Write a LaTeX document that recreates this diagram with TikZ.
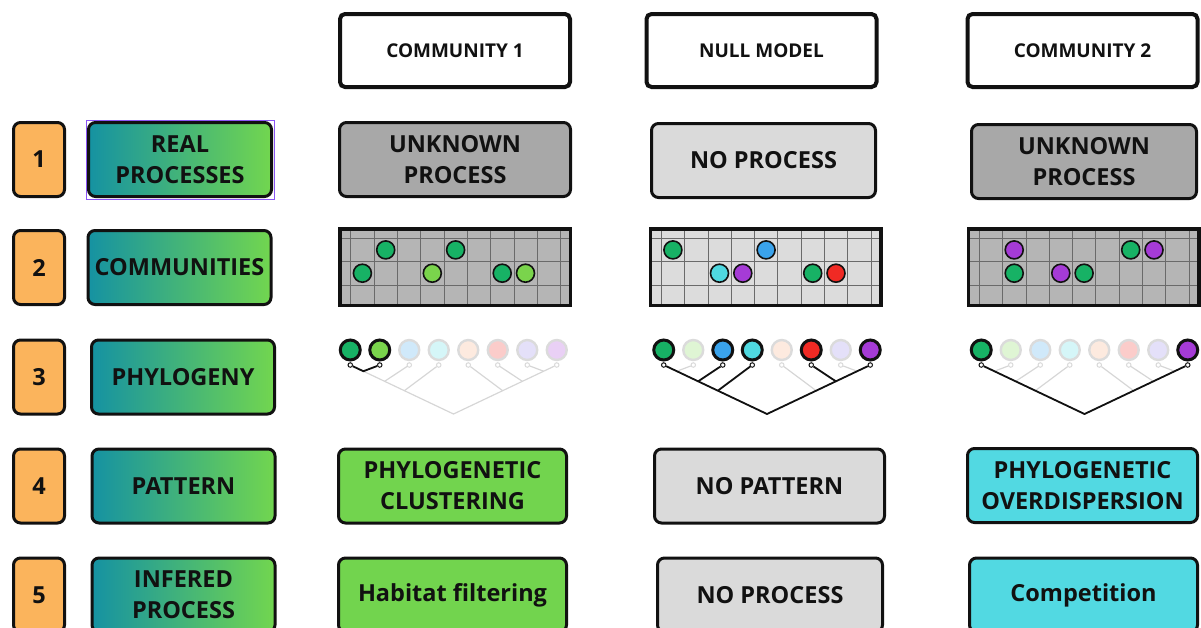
\documentclass[tikz,border=0pt]{standalone}
\usepackage{fontspec}
\setmainfont{Open Sans}
\usetikzlibrary{calc}

\definecolor{numorange}{HTML}{FBB45C}
\definecolor{labteal}{HTML}{1592A2}
\definecolor{labgreen}{HTML}{72D64F}
\definecolor{procgrey}{HTML}{A8A8A8}
\definecolor{nullgrey}{HTML}{DADADA}
\definecolor{clustgreen}{HTML}{72D44E}
\definecolor{overcyan}{HTML}{52D9E2}
\definecolor{gridgrey}{HTML}{B5B5B5}
\definecolor{gridlight}{HTML}{DCDCDC}
\definecolor{gridrule}{HTML}{6A6A6A}
\definecolor{spA}{HTML}{17B265}
\definecolor{spB}{HTML}{7AD44C}
\definecolor{spC}{HTML}{3AA3EC}
\definecolor{spD}{HTML}{4FD8E0}
\definecolor{spE}{HTML}{F6A878}
\definecolor{spF}{HTML}{F02A24}
\definecolor{spG}{HTML}{8F7CE8}
\definecolor{spH}{HTML}{A53BD6}
\definecolor{selpurple}{HTML}{8B55F5}
\definecolor{ink}{HTML}{111111}

% tips and stubs of a phylogeny: #1 prefix, #2 centre x, #3 list index/colour/state
\newcommand\phylotips[3]{%
  \foreach \i/\c/\s in {#3} {
    \node[tip\s=\c] (#1t\i) at ({#2+(\i-4.5)*29.5},350) {};
    \node[stub\s] (#1s\i) at ({#2+(\i-4.5)*29.5},365) {};
  }
  \coordinate (#1r) at (#2,414);
  \coordinate (#1j1) at ($(#1s1)!0.127!(#1r)$);
  \coordinate (#1j2) at ($(#1s1)!0.333!(#1r)$);
  \coordinate (#1j3) at ($(#1s1)!0.524!(#1r)$);
  \coordinate (#1k1) at ($(#1s8)!0.127!(#1r)$);
  \coordinate (#1k2) at ($(#1s8)!0.333!(#1r)$);
  \coordinate (#1k3) at ($(#1s8)!0.524!(#1r)$);
  \draw[branchoff] (#1s1) -- (#1j1) -- (#1j2) -- (#1j3) -- (#1r)
                   -- (#1k3) -- (#1k2) -- (#1k1) -- (#1s8);
  \draw[branchoff] (#1s2) -- (#1j1) (#1s3) -- (#1j2) (#1s4) -- (#1j3)
                   (#1s5) -- (#1k3) (#1s6) -- (#1k2) (#1s7) -- (#1k1);
}

% a habitat plot: #1 name, #2 centre x, #3 fill, #4 list column/row/colour
\newcommand\habitat[4]{%
  \node[plotarea, fill=#3] (#1) at (#2,267) {};
  \begin{scope}
    \clip (#1.north west) rectangle (#1.south east);
    \foreach \k in {0,...,9}
      \draw[gridline] ($(#1.north west)+({11+23.3*\k},0)$) -- ++(0,90);
    \foreach \k in {0,...,2}
      \draw[gridline] ($(#1.north west)+(0,{9.5+23.3*\k})$) -- ++(240,0);
  \end{scope}
  \draw[line width=3.5, ink] (#1.north west) rectangle (#1.south east);
  \foreach \k/\r/\c [count=\n] in {#4}
    \node[dot=\c] (#1d\n) at ($(#1.north west)+({11+23.3*(\k+0.5)},{9.5+23.3*(\r+0.5)})$) {};
}

\begin{document}
\begin{tikzpicture}[x=1pt, y=-1pt,
  txt/.style={font=\fontsize{23.5}{31}\selectfont\bfseries, text=ink, align=center, inner sep=0},
  hdr/.style={draw=ink, line width=4, rounded corners=5, fill=white, minimum width=230,
    minimum height=73, font=\fontsize{19}{23}\selectfont\bfseries, text=ink},
  panel/.style={txt, draw=ink, line width=3, rounded corners=7, minimum height=74},
  numbox/.style={txt, draw=ink, line width=3, rounded corners=7, fill=numorange,
    minimum width=51, minimum height=74},
  labbox/.style={txt, draw=ink, line width=3, rounded corners=7, left color=labteal,
    right color=labgreen, minimum width=183, minimum height=74},
  plotarea/.style={minimum width=230.5, minimum height=76.5, inner sep=0, outer sep=0},
  gridline/.style={draw=gridrule, line width=0.7},
  dot/.style={circle, inner sep=0, minimum size=18, fill=#1, draw=ink, line width=1.6},
  tipon/.style={circle, inner sep=0, minimum size=20, fill=#1, draw=ink, line width=3},
  tipoff/.style={circle, inner sep=0, minimum size=20, fill=#1!24, draw=black!14, line width=2.4},
  stubon/.style={circle, inner sep=0, minimum size=4.5, fill=white, draw=ink, line width=1},
  stuboff/.style={circle, inner sep=0, minimum size=4.5, fill=white, draw=black!15, line width=1},
  branchoff/.style={draw=black!16, line width=1.2, line join=round},
  branchon/.style={draw=ink, line width=1.8, line join=round},
]
\useasboundingbox (0,0) rectangle (1201,627);
\clip (0,0) rectangle (1201,627);

% column headers
\node[hdr] (h1) at (455,50.5) {COMMUNITY 1};
\node[hdr] (h2) at (761.5,50.5) {NULL MODEL};
\node[hdr] (h3) at (1082.5,50.5) {COMMUNITY 2};

% step numbers
\node[numbox] (n1) at (39,159.5) {1};
\node[numbox] (n2) at (39,267.5) {2};
\node[numbox] (n3) at (39,377) {3};
\node[numbox] (n4) at (39,486) {4};
\node[numbox] (n5) at (39,595) {5};

% step labels
\node[labbox] (l1) at (180,159.5) {REAL\\PROCESSES};
\node[labbox] (l2) at (179.5,267.5) {COMMUNITIES};
\node[labbox] (l3) at (183,377) {PHYLOGENY};
\node[labbox] (l4) at (183.5,486) {PATTERN};
\node[labbox] (l5) at (183.5,595) {INFERED\\PROCESS};
\draw[selpurple, line width=1] ($(l1.north west)+(-1,-1)$) rectangle ($(l1.south east)+(1,1)$);

% row 1: processes
\node[panel, fill=procgrey, minimum width=231] (p1) at (455,159.5) {UNKNOWN\\PROCESS};
\node[panel, fill=nullgrey, minimum width=224] (p2) at (763.5,160.5) {NO PROCESS};
\node[panel, fill=procgrey, minimum width=225] (p3) at (1084,161.5) {UNKNOWN\\PROCESS};

% row 2: communities
\habitat{g1}{455}{gridgrey}{0/1/spA, 1/0/spA, 3/1/spB, 4/0/spA, 6/1/spA, 7/1/spB}
\habitat{g2}{765.5}{gridlight}{0/0/spA, 4/0/spC, 2/1/spD, 3/1/spH, 6/1/spA, 7/1/spF}
\habitat{g3}{1083.5}{gridgrey}{1/0/spH, 1/1/spA, 3/1/spH, 4/1/spA, 6/0/spA, 7/0/spH}

% row 3: phylogenies
\phylotips{a}{453.5}{1/spA/on, 2/spB/on, 3/spC/off, 4/spD/off, 5/spE/off, 6/spF/off, 7/spG/off, 8/spH/off}
\draw[branchon] (as1) -- (aj1) -- (as2);

\phylotips{b}{767}{1/spA/on, 2/spB/off, 3/spC/on, 4/spD/on, 5/spE/off, 6/spF/on, 7/spG/off, 8/spH/on}
\draw[branchon] (bs1) -- (bj1) -- (bj2) -- (bj3) -- (br) -- (bk3) -- (bk2) -- (bk1) -- (bs8);
\draw[branchon] (bs3) -- (bj2) (bs4) -- (bj3) (bs6) -- (bk2);

\phylotips{c}{1084.5}{1/spA/on, 2/spB/off, 3/spC/off, 4/spD/off, 5/spE/off, 6/spF/off, 7/spG/off, 8/spH/on}
\draw[branchon] (cs1) -- (cr) -- (cs8);

% row 4: patterns
\node[panel, fill=clustgreen, minimum width=228] (q1) at (452.5,486) {PHYLOGENETIC\\CLUSTERING};
\node[panel, fill=nullgrey, minimum width=230] (q2) at (769.5,486) {NO PATTERN};
\node[panel, fill=overcyan, minimum width=230] (q3) at (1082.5,485.5) {PHYLOGENETIC\\OVERDISPERSION};

% row 5: inferred processes
\node[panel, fill=clustgreen, minimum width=228] (r1) at (452.5,595) {Habitat filtering};
\node[panel, fill=nullgrey, minimum width=225] (r2) at (770,595) {NO PROCESS};
\node[panel, fill=overcyan, minimum width=228] (r3) at (1083.5,595) {Competition};
\end{tikzpicture}
\end{document}
